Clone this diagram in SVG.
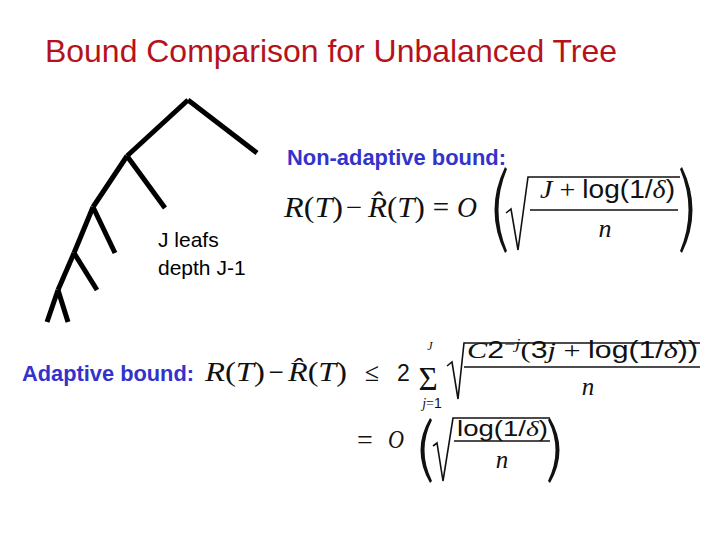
<svg xmlns="http://www.w3.org/2000/svg" width="720" height="540" viewBox="0 0 720 540">
<style>
.sans{font-family:"Liberation Sans",Arial,sans-serif}
.lbl{font-family:"Liberation Sans",Arial,sans-serif;font-size:22px;font-weight:bold;fill:#3333cc}
.m{font-family:"Liberation Serif","Times New Roman",serif;fill:#111}
.i{font-style:italic}
.s{font-family:"Liberation Sans",Arial,sans-serif;font-style:normal}
.edge{stroke:#000;stroke-width:5;stroke-linecap:butt;fill:none}
.rule{stroke:#111;fill:none}
.par{fill:#111;stroke:none}
</style>
<rect width="720" height="540" fill="#fff"/>

<g id="title">
<text x="45" y="62" class="sans" font-size="32" fill="#b5121b" textLength="572" lengthAdjust="spacingAndGlyphs">Bound Comparison for Unbalanced Tree</text>
</g>

<g id="tree">
<line class="edge" x1="188" y1="100" x2="257" y2="153"/>
<line class="edge" x1="188" y1="100" x2="127" y2="156"/>
<line class="edge" x1="127" y1="156" x2="165" y2="208"/>
<line class="edge" x1="127" y1="156" x2="93" y2="207"/>
<line class="edge" x1="93" y1="207" x2="115" y2="253"/>
<line class="edge" x1="93" y1="207" x2="74" y2="253"/>
<line class="edge" x1="74" y1="253" x2="97" y2="290"/>
<line class="edge" x1="74" y1="253" x2="58" y2="290"/>
<line class="edge" x1="58" y1="290" x2="47" y2="322"/>
<line class="edge" x1="58" y1="290" x2="68" y2="322"/>
</g>

<g id="tree-label">
<text x="158" y="247" class="sans" font-size="21" fill="#000">J leafs</text>
<text x="158" y="275" class="sans" font-size="21" fill="#000">depth J-1</text>
</g>

<g id="nonadaptive-label">
<text x="287" y="165" class="lbl" textLength="219" lengthAdjust="spacingAndGlyphs">Non-adaptive bound:</text>
</g>

<g id="formula-nonadaptive" class="m">
<text x="284" y="217" font-size="29" textLength="59" lengthAdjust="spacingAndGlyphs"><tspan class="i">R</tspan>(<tspan class="i">T</tspan>)</text>
<text x="354" y="217" font-size="29" text-anchor="middle">−</text>
<text x="368" y="217" font-size="29" textLength="57" lengthAdjust="spacingAndGlyphs"><tspan class="i">R̂</tspan>(<tspan class="i">T</tspan>)</text>
<text x="441" y="217" font-size="29" text-anchor="middle">=</text>
<text x="457" y="217" font-size="29" class="i" textLength="20" lengthAdjust="spacingAndGlyphs">O</text>
<path class="par" d="M505,167 Q484,210 505,253 L507,251 Q490,210 507,169 Z"/>
<polyline class="rule" stroke-width="1.6" points="506,213 511,209 518,250 528,177 680,177"/>
<text x="540" y="198" font-size="25" textLength="135" lengthAdjust="spacingAndGlyphs"><tspan class="i">J</tspan> + <tspan class="s">log(1/</tspan><tspan class="i">δ</tspan><tspan class="s">)</tspan></text>
<line class="rule" stroke-width="1.3" x1="530" y1="210" x2="678" y2="210"/>
<text x="605" y="237" font-size="26" class="i" text-anchor="middle">n</text>
<path class="par" d="M682,167 Q703,210 682,253 L680,251 Q697,210 680,169 Z"/>
</g>

<g id="adaptive-label">
<text x="22" y="381" class="lbl" textLength="172" lengthAdjust="spacingAndGlyphs">Adaptive bound:</text>
</g>

<g id="formula-adaptive" class="m">
<text x="205" y="381" font-size="27" textLength="60" lengthAdjust="spacingAndGlyphs"><tspan class="i">R</tspan>(<tspan class="i">T</tspan>)</text>
<text x="276" y="381" font-size="27" text-anchor="middle">−</text>
<text x="288" y="381" font-size="27" textLength="59" lengthAdjust="spacingAndGlyphs"><tspan class="i">R̂</tspan>(<tspan class="i">T</tspan>)</text>
<text x="372" y="381" font-size="26" text-anchor="middle">≤</text>
<text x="397" y="381" font-size="23" class="s">2</text>
<text x="430" y="350" font-size="12" class="i" text-anchor="middle">J</text>
<text x="428" y="390" font-size="33" text-anchor="middle">Σ</text>
<text x="432" y="408" font-size="14" text-anchor="middle"><tspan class="i">j</tspan>=<tspan class="s">1</tspan></text>
<polyline class="rule" stroke-width="1.6" points="447,366 452,362 458,399 464,343 700,343"/>
<text x="467" y="358" font-size="23" textLength="231" lengthAdjust="spacingAndGlyphs"><tspan class="i">C</tspan><tspan class="s">2</tspan><tspan font-size="15" dy="-9">−<tspan class="i">j</tspan></tspan><tspan dy="9">(</tspan><tspan class="s">3</tspan><tspan class="i">j</tspan> + <tspan class="s">log(1/</tspan><tspan class="i">δ</tspan><tspan class="s">))</tspan></text>
<line class="rule" stroke-width="1.3" x1="464" y1="367" x2="700" y2="367"/>
<text x="588" y="395" font-size="25" class="i" text-anchor="middle">n</text>
</g>

<g id="formula-asymptotic" class="m">
<text x="365" y="449" font-size="28" text-anchor="middle">=</text>
<text x="388" y="448" font-size="26" class="i" textLength="16" lengthAdjust="spacingAndGlyphs">O</text>
<path class="par" d="M430,418 Q411,450 430,483 L432,481 Q417,450 432,420 Z"/>
<polyline class="rule" stroke-width="1.6" points="433,446 437,443 443,481 453,418 550,418"/>
<text x="457" y="436" font-size="22" class="s" textLength="91" lengthAdjust="spacingAndGlyphs">log(1/<tspan class="m i">δ</tspan>)</text>
<line class="rule" stroke-width="1.3" x1="454" y1="441" x2="550" y2="441"/>
<text x="502" y="468" font-size="25" class="i" text-anchor="middle">n</text>
<path class="par" d="M550,418 Q569,450 550,483 L548,481 Q563,450 548,420 Z"/>
</g>
</svg>
